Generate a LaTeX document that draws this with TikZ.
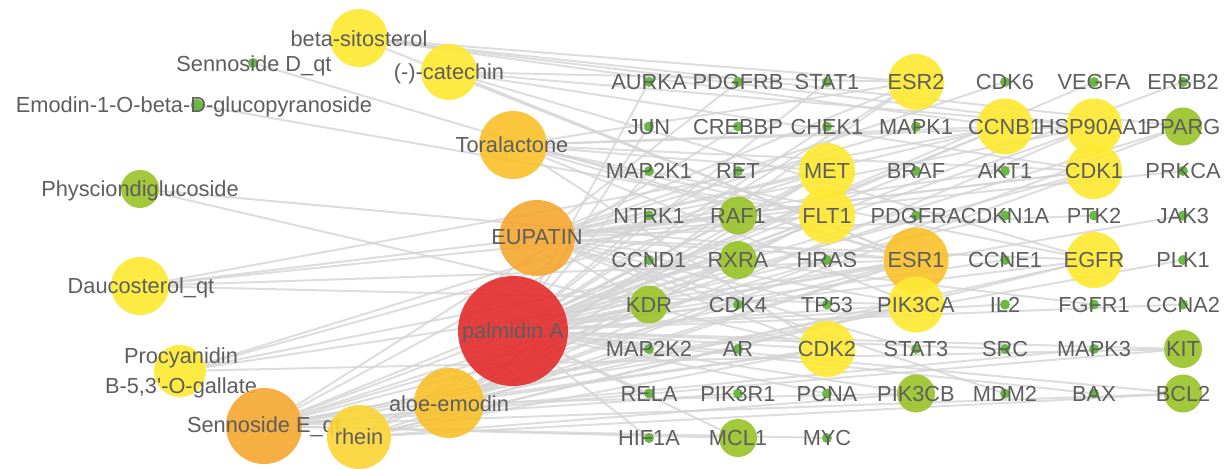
\documentclass[tikz,border=0pt]{standalone}
\usepackage{fontspec}
\setmainfont{Liberation Sans}
\usetikzlibrary{backgrounds}
\definecolor{txtgray}{HTML}{5E5E5E}
\definecolor{dotgreen}{HTML}{5DB432}
\definecolor{hubolive}{HTML}{9CC32B}
\definecolor{hubyellow}{HTML}{FDE934}
\definecolor{hubgold}{HTML}{FBD537}
\definecolor{hubamber}{HTML}{F8C12D}
\definecolor{huborange}{HTML}{F4A833}
\definecolor{hubred}{HTML}{E42F2F}
\definecolor{linkgray}{HTML}{D4D4D4}
\tikzset{
	hub/.style={circle, inner sep=0pt, draw=none, fill opacity=0.92, minimum size=#1*0.025cm},
	tdot/.style={hub=10, fill=dotgreen},
	tolive/.style={hub=38, fill=hubolive},
	tyel/.style={hub=56, fill=hubyellow},
	tamb/.style={hub=65, fill=hubamber},
	lbl/.style={inner sep=0pt, text=txtgray, font=\fontsize{15.5}{21}\selectfont, text height=11pt, text depth=0pt},
	link/.style={line width=1.4pt, draw=linkgray, opacity=0.8},
}

\begin{document}
\begin{tikzpicture}[x=0.025cm, y=-0.025cm]
		%%%%% START %%%%%
		\useasboundingbox (0, 0) rectangle (1231, 468);
		
		% targets, 7 per row
		\foreach \nm/\st [count=\i from 0] in {
			AURKA/tdot, PDGFRB/tdot, STAT1/tdot, ESR2/tyel, CDK6/tdot, VEGFA/tdot, ERBB2/tdot,
			JUN/tdot, CREBBP/tdot, CHEK1/tdot, MAPK1/tdot, CCNB1/tyel, HSP90AA1/tyel, PPARG/tolive,
			MAP2K1/tdot, RET/tdot, MET/tyel, BRAF/tdot, AKT1/tdot, CDK1/tyel, PRKCA/tdot,
			NTRK1/tdot, RAF1/tolive, FLT1/tyel, PDGFRA/tdot, CDKN1A/tdot, PTK2/tdot, JAK3/tdot,
			CCND1/tdot, RXRA/tolive, HRAS/tdot, ESR1/tamb, CCNE1/tdot, EGFR/tyel, PLK1/tdot,
			KDR/tolive, CDK4/tdot, TP53/tdot, PIK3CA/tyel, IL2/tdot, FGFR1/tdot, CCNA2/tdot,
			MAP2K2/tdot, AR/tdot, CDK2/tyel, STAT3/tdot, SRC/tdot, MAPK3/tdot, KIT/tolive,
			RELA/tdot, PIK3R1/tdot, PCNA/tdot, PIK3CB/tolive, MDM2/tdot, BAX/tdot, BCL2/tolive,
			HIF1A/tdot, MCL1/tolive, MYC/tdot} {
			\pgfmathtruncatemacro{\cl}{mod(\i,7)}
			\pgfmathtruncatemacro{\rw}{\i/7}
			\node[\st] (\nm) at ({649+89*\cl}, {82+44.5*\rw}) {};
			\node[lbl] (\nm-l) at (\nm) {\nm};
		}
		
		% compounds
		\node[hub=58, fill=hubyellow] (bs) at (359, 38) {};
		\node[lbl] (bs-l) at (359, 39) {beta-sitosterol};
		\node[hub=10, fill=dotgreen] (sd) at (253, 63) {};
		\node[lbl] (sd-l) at (254, 64) {Sennoside D\_qt};
		\node[hub=56, fill=hubyellow] (ca) at (449, 72) {};
		\node[lbl] (ca-l) at (449, 72) {(-)-catechin};
		\node[hub=12, fill=dotgreen] (eg) at (197, 105) {};
		\node[lbl] (eg-l) at (194, 105) {Emodin-1-O-beta-D-glucopyranoside};
		\node[hub=68, fill=hubamber] (to) at (513, 145) {};
		\node[lbl] (to-l) at (512, 145) {Toralactone};
		\node[hub=38, fill=hubolive] (ph) at (140, 189) {};
		\node[lbl] (ph-l) at (140, 189) {Physciondiglucoside};
		\node[hub=76, fill=huborange] (eu) at (537, 238) {};
		\node[lbl] (eu-l) at (537, 237) {EUPATIN};
		\node[hub=58, fill=hubyellow] (da) at (140, 286) {};
		\node[lbl] (da-l) at (141, 286) {Daucosterol\_qt};
		\node[hub=110, fill=hubred] (pa) at (513, 331) {};
		\node[lbl] (pa-l) at (513, 331) {palmidin A};
		\node[hub=52, fill=hubyellow] (pr) at (180, 371) {};
		\node[inner sep=0pt, text=txtgray, font=\fontsize{15.5}{21}\selectfont, align=center] (pr-l) at (181, 373) {Procyanidin\\B-5,3\textquotesingle-O-gallate};
		\node[hub=76, fill=huborange] (se) at (264, 426) {};
		\node[lbl] (se-l) at (264, 425) {Sennoside E\_qt};
		\node[hub=64, fill=hubgold] (rh) at (359, 437) {};
		\node[lbl] (rh-l) at (359, 437) {rhein};
		\node[hub=70, fill=hubamber] (ae) at (449, 403) {};
		\node[lbl] (ae-l) at (449, 404) {aloe-emodin};
		
		% links
		\begin{pgfonlayer}{background}
			\foreach \src/\dst in {
				pa/{AURKA,STAT1,VEGFA,JUN,CHEK1,MAP2K1,BRAF,NTRK1,CDKN1A,JAK3,CCND1,CCNE1,CDK4,IL2,CCNA2,MAP2K2,SRC,RELA,PCNA,BAX,HIF1A,ESR2,CCNB1,HSP90AA1,MET,CDK1,FLT1,ESR1,EGFR,PIK3CA,CDK2,RXRA,RAF1,KDR,PIK3CB,MCL1,BCL2,KIT,PPARG},
				eu/{PDGFRB,CDK6,MAPK1,AKT1,PTK2,PRKCA,TP53,FGFR1,STAT3,MDM2,ESR2,CCNB1,HSP90AA1,MET,CDK1,FLT1,ESR1,EGFR,PIK3CA,CDK2,RAF1,KDR},
				se/{ERBB2,CREBBP,RET,PDGFRA,HRAS,PLK1,AR,MAPK3,PIK3R1,MYC,ESR1,CDK2,PIK3CA,CCNB1,MCL1,BCL2,KIT},
				ae/{ESR1,ESR2,MET,FLT1,CDK1,EGFR,PIK3CB,RXRA,KDR,HSP90AA1,CDK2,PPARG},
				to/{ESR1,ESR2,MET,CDK1,HSP90AA1,CCNB1,FLT1,EGFR,PIK3CA,CDK2},
				rh/{ESR1,EGFR,CDK2,PIK3CA,MET,FLT1,BCL2,PIK3CB},
				bs/{ESR2,CCNB1,HSP90AA1,ESR1,PPARG},
				ca/{ESR2,CDK1,HSP90AA1,ESR1,EGFR},
				da/{ESR1,CDK1,FLT1,PIK3CA,CCNB1},
				pr/{ESR1,MET,KIT,RAF1,RXRA},
				ph/{ESR1,CDK2},
				sd/{ESR1},
				eg/{FLT1}} {
				\foreach \t in \dst {
					\draw[link] (\src) -- (\t);
				}
			}
		\end{pgfonlayer}
		
		%%%%% END %%%%%
\end{tikzpicture}
\end{document}
